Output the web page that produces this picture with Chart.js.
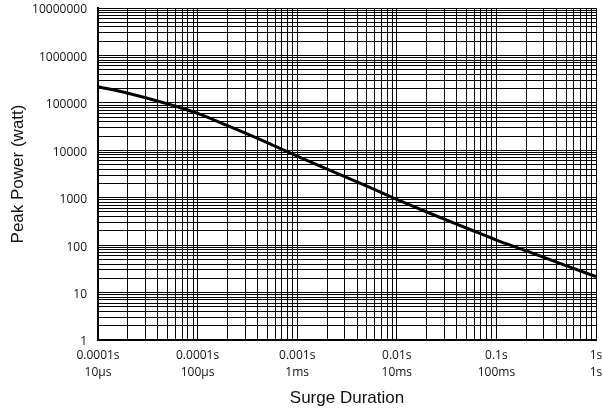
<!DOCTYPE html>
<html>
<head>
<meta charset="utf-8">
<script src="https://cdn.jsdelivr.net/npm/chart.js@4.4.1/dist/chart.umd.min.js"></script>
<style>
  html, body { margin: 0; padding: 0; background: #fff; }
  #wrap { width: 602px; height: 409px; }
</style>
</head>
<body>
<div id="wrap"><canvas id="myChart" width="602" height="409"></canvas></div>
<script>
// surge duration (s) and peak power (W)
const durations = [1e-5, 2e-5, 5e-5, 1e-4, 2e-4, 5e-4, 1e-3, 2e-3, 5e-3, 1e-2, 2e-2, 5e-2, 1e-1, 2e-1, 5e-1, 1];
const peakPower = [220000, 160000, 95000, 60000, 33000, 14500, 7500, 4000, 1750, 920, 500, 230, 128, 76, 37, 21.6];

const xDecades = [1e-5, 1e-4, 1e-3, 1e-2, 1e-1, 1];
const xLabelTop = ['0.0001s', '0.0001s', '0.001s', '0.01s', '0.1s', '1s'];
const xLabelBottom = ['10µs', '100µs', '1ms', '10ms', '100ms', '1s'];

const yDecades = [1, 10, 100, 1000, 10000, 100000, 1000000, 10000000];
const yLabels = ['1', '10', '100', '1000', '10000', '100000', '1000000', '10000000'];

// 1..9 x 10^n grid ticks between first and last decade
function gridTicks(decades) {
  const out = [];
  for (let i = 0; i < decades.length - 1; i++) {
    const e = Math.round(Math.log10(decades[i]));
    for (let m = 1; m <= 9; m++) out.push(parseFloat(m + 'e' + e));
  }
  out.push(decades[decades.length - 1]);
  return out;
}

function decadeIndex(decades, v) {
  return decades.findIndex(d => Math.abs(Math.log10(d) - Math.log10(v)) < 1e-9);
}

window.onload = function () {
  const data = {
    datasets: [{
      label: 'Peak Power',
      data: durations.map((d, i) => ({ x: d, y: peakPower[i] })),
      borderColor: '#000',
      borderWidth: 3,
      pointRadius: 0,
      cubicInterpolationMode: 'monotone',
      fill: false
    }]
  };

  const tickFont = { family: '"Open Sans", sans-serif', size: 12, lineHeight: 1.4 };
  const titleFont = { family: '"Liberation Sans", Arial, sans-serif', size: 17 };

  const config = {
    type: 'line',
    data: data,
    options: {
      responsive: false,
      animation: false,
      layout: { padding: { top: 8, right: 6, bottom: 0, left: 0 } },
      plugins: { legend: { display: false }, tooltip: { enabled: false } },
      scales: {
        x: {
          type: 'logarithmic',
          min: xDecades[0],
          max: xDecades[xDecades.length - 1],
          grid: { color: '#000', lineWidth: 1, drawTicks: false },
          border: { color: '#000', width: 2 },
          afterBuildTicks: s => { s.ticks = gridTicks(xDecades).map(v => ({ value: v })); },
          afterFit: s => { s.height = 69; s.paddingLeft = 0; s.paddingRight = 0; },
          ticks: {
            autoSkip: false,
            maxRotation: 0,
            minRotation: 0,
            padding: 7,
            color: '#111',
            font: tickFont,
            callback: function (v) {
              const i = decadeIndex(xDecades, v);
              return i < 0 ? '' : [xLabelTop[i], xLabelBottom[i]];
            }
          },
          title: {
            display: true,
            text: 'Surge Duration',
            color: '#111',
            font: titleFont,
            padding: { top: 0, bottom: 0 }
          }
        },
        y: {
          type: 'logarithmic',
          min: yDecades[0],
          max: yDecades[yDecades.length - 1],
          grid: { color: '#000', lineWidth: 1, drawTicks: false },
          border: { color: '#000', width: 2 },
          afterBuildTicks: s => { s.ticks = gridTicks(yDecades).map(v => ({ value: v })); },
          afterFit: s => { s.width = 98; s.paddingTop = 0; s.paddingBottom = 0; },
          ticks: {
            autoSkip: false,
            padding: 11,
            labelOffset: 2,
            color: '#111',
            font: tickFont,
            callback: function (v) {
              const i = decadeIndex(yDecades, v);
              return i < 0 ? '' : yLabels[i];
            }
          },
          title: {
            display: true,
            text: 'Peak Power (watt)',
            color: '#111',
            font: titleFont,
            padding: { top: 8, bottom: 0 }
          }
        }
      }
    }
  };

  const myChart = new Chart(document.getElementById('myChart'), config);
};
</script>
</body>
</html>
